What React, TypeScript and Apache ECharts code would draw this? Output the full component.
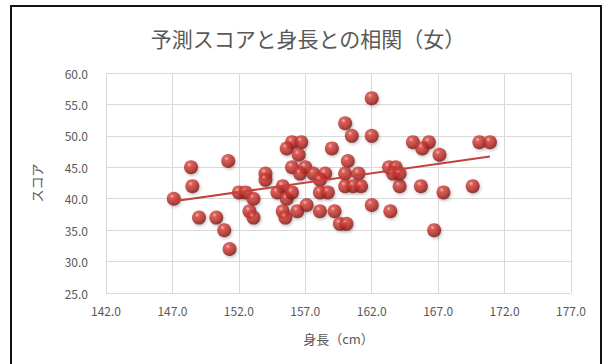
import { useEffect, useRef } from "react";
import * as echarts from "echarts";

// 身長(cm) と 予測スコア
const heights = [
  147.1, 148.4, 148.5, 149.0, 150.3, 150.9, 151.2, 151.3, 152.0, 152.5,
  153.1, 152.8, 153.1, 154.0, 154.0, 155.3, 154.9, 155.6, 156.0, 155.3,
  155.5, 156.4, 156.0, 156.0, 155.6, 156.7, 156.5, 157.0, 156.6, 157.6,
  158.5, 158.1, 157.1, 158.1, 158.1, 158.7, 159.2, 159.6, 160.1, 159.0,
  160.0, 160.5, 162.0, 162.0, 160.2, 160.0, 161.0, 160.0, 160.6, 161.2,
  162.0, 163.4, 163.3, 163.8, 163.6, 164.1, 164.1, 165.1, 166.3, 165.8,
  167.1, 170.1, 170.9, 165.7, 167.4, 169.6, 166.7,
];
const scores = [
  40, 45, 42, 37, 37, 35, 46, 32, 41, 41,
  40, 38, 37, 44, 43, 42, 41, 40, 41, 38,
  37, 38, 45, 49, 48, 49, 47, 45, 44, 44,
  44, 43, 39, 38, 41, 41, 38, 36, 36, 48,
  52, 50, 56, 50, 46, 44, 44, 42, 42, 42,
  39, 38, 45, 45, 44, 42, 44, 49, 49, 48,
  47, 49, 49, 42, 41, 42, 35,
];

// 線形近似の両端
const trendHeights = [147.1, 170.9];
const trendScores = [39.6, 46.7];

const xTicks = [142, 147, 152, 157, 162, 167, 172, 177];

const FONT = '"Noto Sans CJK JP", "Noto Sans", sans-serif';
const TEXT = "#595959";

export default function App() {
  const ref = useRef<HTMLDivElement>(null);

  useEffect(() => {
    if (!ref.current) return;
    const chart = echarts.init(ref.current, null, { renderer: "svg" });

    const sphere = new echarts.graphic.RadialGradient(0.38, 0.32, 0.7, [
      { offset: 0, color: "#f7b3ad" },
      { offset: 0.22, color: "#d8443d" },
      { offset: 0.65, color: "#b32823" },
      { offset: 1, color: "#761410" },
    ]);

    chart.setOption({
      animation: false,
      backgroundColor: "#ffffff",
      textStyle: { fontFamily: FONT },
      title: {
        text: "予測スコアと身長との相関（女）",
        left: 303,
        top: 22,
        textAlign: "center",
        textStyle: { fontFamily: FONT, fontSize: 21, fontWeight: "normal", color: TEXT },
      },
      grid: { left: 106, right: 40, top: 73, bottom: 71 },
      xAxis: {
        type: "value",
        min: 142,
        max: 177,
        name: "身長（cm）",
        nameLocation: "middle",
        nameGap: 39,
        nameTextStyle: { fontFamily: FONT, fontSize: 13, color: TEXT },
        axisLine: { show: false },
        axisTick: { show: false, customValues: xTicks },
        axisLabel: {
          customValues: xTicks,
          margin: 11,
          fontFamily: FONT,
          fontSize: 12,
          color: TEXT,
          formatter: (v: number) => v.toFixed(1),
        },
        splitLine: { show: true, lineStyle: { color: "#d9d9d9", width: 1 } },
      },
      yAxis: {
        type: "value",
        min: 25,
        max: 60,
        interval: 5,
        name: "スコア",
        nameLocation: "middle",
        nameGap: 63,
        nameRotate: 90,
        nameTextStyle: { fontFamily: FONT, fontSize: 13, color: TEXT },
        axisLine: { show: false },
        axisTick: { show: false },
        axisLabel: {
          margin: 18,
          fontFamily: FONT,
          fontSize: 12,
          color: TEXT,
          formatter: (v: number) => v.toFixed(1),
        },
        splitLine: { show: true, lineStyle: { color: "#d9d9d9", width: 1 } },
      },
      graphic: [
        {
          type: "rect",
          shape: { x: 11, y: 6, width: 590, height: 380 },
          style: { fill: "none", stroke: "#111111", lineWidth: 2 },
          silent: true,
        },
      ],
      series: [
        {
          type: "scatter",
          data: heights.map((h, i) => [h, scores[i]]),
          symbol: "circle",
          symbolSize: 14,
          itemStyle: {
            color: sphere,
            shadowBlur: 3,
            shadowColor: "rgba(0,0,0,0.3)",
            shadowOffsetX: 1,
            shadowOffsetY: 1.5,
          },
          z: 2,
        },
        {
          type: "line",
          data: trendHeights.map((h, i) => [h, trendScores[i]]),
          showSymbol: false,
          symbol: "none",
          lineStyle: { color: "#c4413d", width: 2 },
          z: 3,
        },
      ],
    });

    return () => chart.dispose();
  }, []);

  return (
    <div
      ref={ref}
      style={{ position: "fixed", left: 0, top: 0, width: 611, height: 364 }}
    />
  );
}
